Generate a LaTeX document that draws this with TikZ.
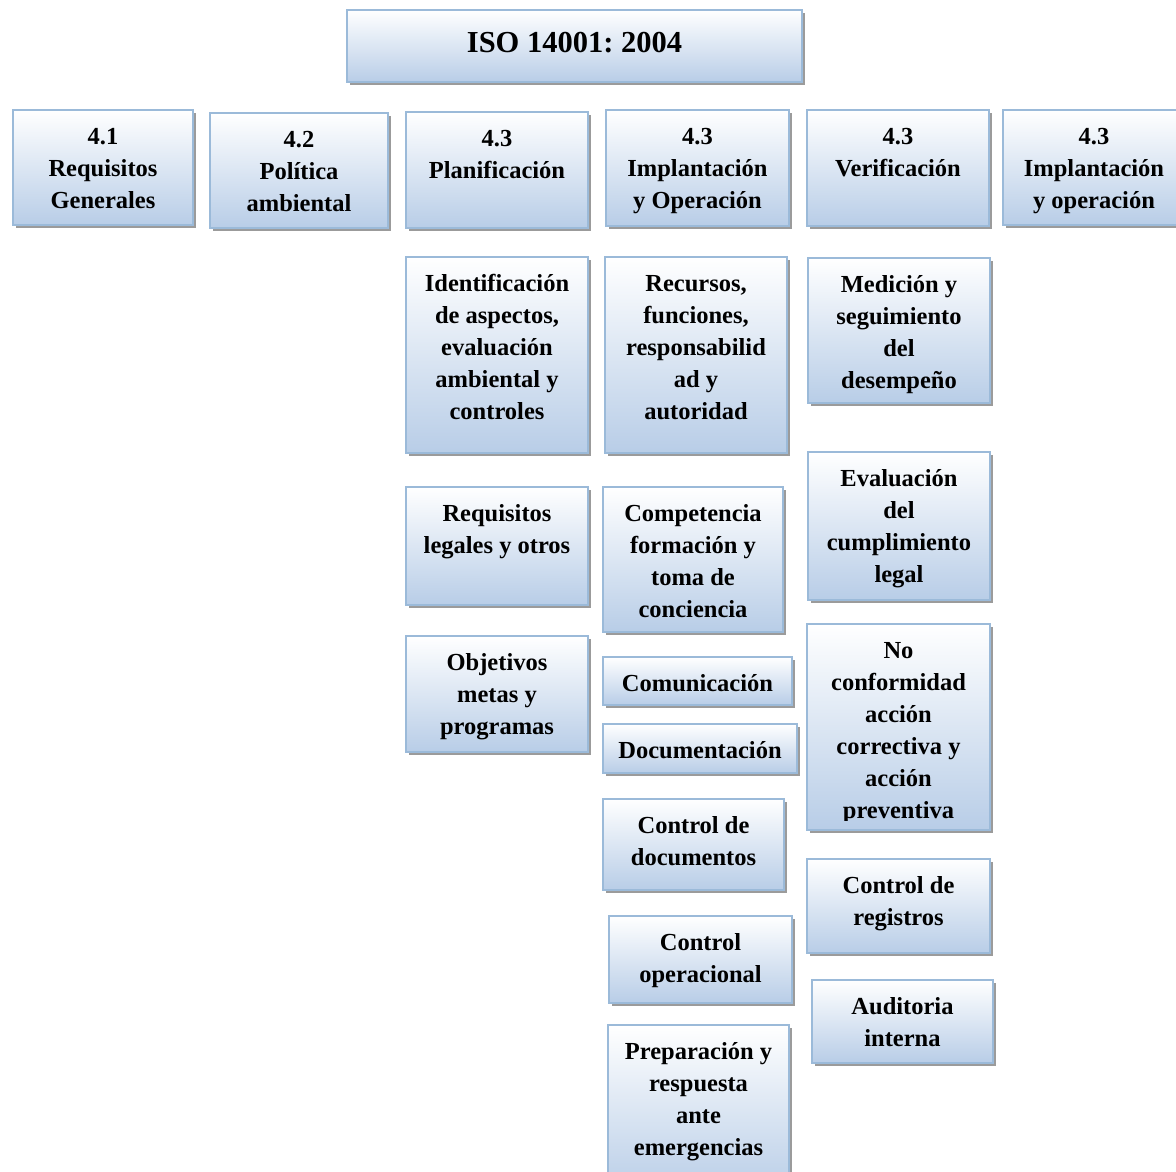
\documentclass[tikz,border=0pt]{standalone}
\usepackage{fontspec}
\setmainfont{Liberation Serif}
\usetikzlibrary{shadows}
\frenchspacing

\definecolor{boxline}{HTML}{9BBAD9}
\definecolor{boxbottom}{HTML}{B8CDE7}
\definecolor{shadowgray}{HTML}{8A8A8A}

\tikzset{
  isobox/.style={rectangle, draw=boxline, line width=1.1pt,
    top color=white, bottom color=boxbottom,
    inner sep=0pt, outer sep=0pt,
    drop shadow={shadow xshift=2.5pt, shadow yshift=-3pt, fill=shadowgray, opacity=0.85}},
  isotext/.style={anchor=north, inner sep=0pt, align=center,
    font=\bfseries\fontsize{24.5}{32}\selectfont},
  titletext/.style={inner sep=0pt, font=\bfseries\fontsize{30.5}{36}\selectfont}
}

% #1 name, #2 left, #3 top, #4 right, #5 bottom, #6 text (top aligned)
\newcommand\isobox[6]{%
  \node[isobox, minimum width={(#4-#2)*1pt}, minimum height={(#5-#3)*1pt}]
    (#1) at ({(#2+#4)/2},{(#3+#5)/2}) {};
  \node[isotext] (#1-t) at ([yshift=-11.6pt]#1.north) {\strut #6};
}

\begin{document}
\begin{tikzpicture}[x=1pt, y=-1pt]
  \useasboundingbox (0,0) rectangle (1176,1171);
  \clip (0,0) rectangle (1176,1171);

  % heading
  \node[isobox, minimum width=455pt, minimum height=72pt] (title) at (574.5,46) {};
  \node[titletext] (title-t) at ([yshift=3pt]title.center) {ISO 14001: 2004};

  % clause row
  \isobox{r41}{13}{110}{193}{225}{4.1\\Requisitos\\Generales}
  \isobox{r42}{210}{113}{388}{228}{4.2\\Política\\ambiental}
  \isobox{r43a}{406}{112}{588}{228}{4.3\\Planificación}
  \isobox{r43b}{606}{110}{789}{226}{4.3\\Implantación\\y Operación}
  \isobox{r43c}{807}{110}{989}{226}{4.3\\Verificación}
  \isobox{r43d}{1003}{110}{1185}{225}{4.3\\Implantación\\y operación}

  % planning
  \isobox{p1}{406}{257}{588}{453}{Identificación\\de aspectos,\\evaluación\\ambiental y\\controles}
  \isobox{p2}{406}{487}{588}{605}{Requisitos\\legales y otros}
  \isobox{p3}{406}{636}{588}{752}{Objetivos\\metas y\\programas}

  % implementation and operation
  \isobox{i1}{605}{257}{787}{453}{Recursos,\\funciones,\\responsabilid\\ad y\\autoridad}
  \isobox{i2}{603}{487}{783}{632}{Competencia\\formación y\\toma de\\conciencia}
  \isobox{i3}{603}{657}{792}{705}{Comunicación}
  \isobox{i4}{603}{724}{797}{773}{Documentación}
  \isobox{i5}{603}{799}{784}{890}{Control de\\documentos}
  \isobox{i6}{609}{916}{792}{1003}{Control\\operacional}
  \isobox{i7}{608}{1025}{789}{1195}{Preparación y\\respuesta\\ante\\emergencias}

  % checking
  \isobox{v1}{808}{258}{990}{403}{Medición y\\seguimiento\\del\\desempeño}
  \isobox{v2}{808}{452}{990}{600}{Evaluación\\del\\cumplimiento\\legal}
  \node[isobox, minimum width=183pt, minimum height=206pt] (v3) at (898.5,727) {};
  \begin{scope}
    % the last line runs into the lower edge of the box and is cut there
    \clip (v3.north west) rectangle ([yshift=10pt]v3.south east);
    \node[isotext] (v3-t) at ([yshift=-11.6pt]v3.north)
      {\strut No\\conformidad\\acción\\correctiva y\\acción\\preventiva};
  \end{scope}
  \isobox{v4}{807}{859}{990}{953}{Control de\\registros}
  \isobox{v5}{812}{980}{993}{1063}{Auditoria\\interna}
\end{tikzpicture}
\end{document}
